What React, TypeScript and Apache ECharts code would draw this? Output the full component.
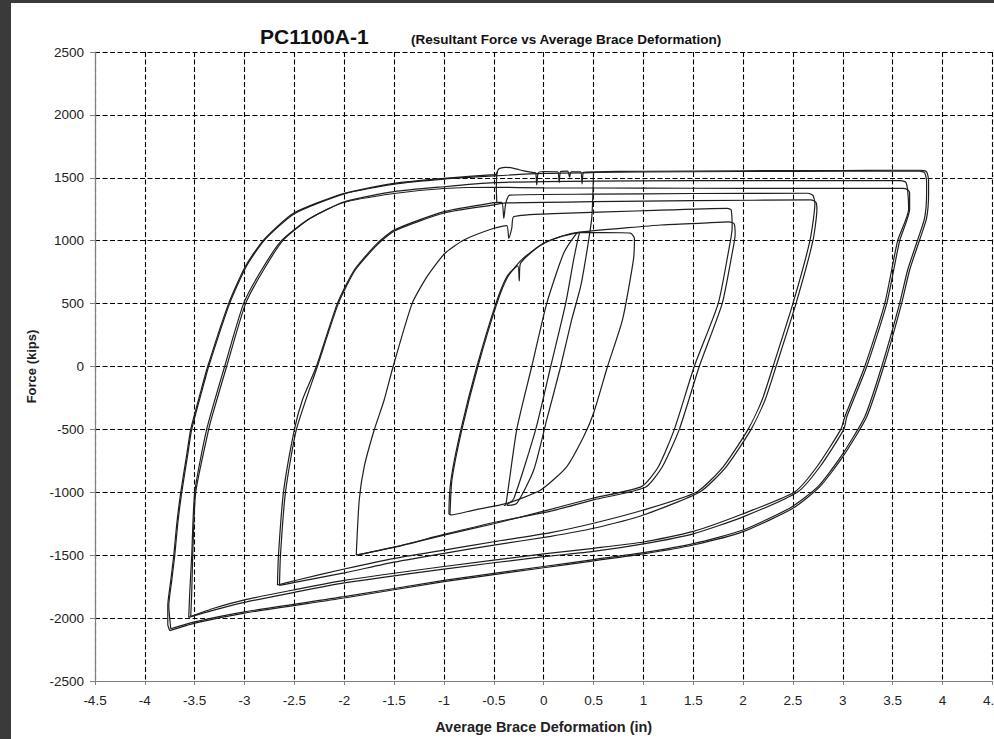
import React, { useEffect, useRef } from 'react';
import * as echarts from 'echarts';

type P = [number, number];

const chartTitle = 'PC1100A-1';
const chartSubtitle = '(Resultant Force vs Average Brace Deformation)';
const xName = 'Average Brace Deformation (in)';
const yName = 'Force (kips)';

// small elastic cycles
const elasticUp: P[] = [[-0.40, -1105], [-0.38, -1100], [-0.27, -500], [-0.12, 0], [0.03, 500], [0.20, 900], [0.33, 1059], [0.36, 1066]];
const elasticDown: P[] = [[0.36, 1066], [0.34, 1000], [0.30, 847], [0.22, 500], [0.07, 0], [-0.08, -500], [-0.30, -1050], [-0.37, -1100]];
const elasticDrop: P[] = [[0.50, 1545], [0.49, 1300], [0.48, 1165], [0.43, 900], [0.37, 634], [0.28, 370], [0.17, 0], [0.03, -425], [-0.10, -823], [-0.27, -1088], [-0.37, -1105]];
const dropAtMinusHalf: P[] = [[-0.47, 1548], [-0.475, 1420], [-0.47, 1300]];

// cycle to about +0.9 / -0.95
const loop1: P[] = [[0.35, 1064], [0.6, 1065], [0.87, 1060], [0.91, 1017], [0.90, 850], [0.79, 370], [0.64, 0], [0.50, -372], [0.40, -558], [0.23, -797], [-0.03, -982], [-0.37, -1088], [-0.70, -1141], [-0.93, -1180], [-0.95, -1170], [-0.93, -902], [-0.83, -500], [-0.67, 0], [-0.48, 500], [-0.37, 714], [-0.26, 800], [-0.245, 680], [-0.235, 815], [-0.03, 966], [0.17, 1032], [0.35, 1064]];

// cycles to about +1.9 / -1.85
const loop2a: P[] = [[-1.88, -1500], [-1.85, -1061], [-1.80, -796], [-1.70, -505], [-1.60, -266], [-1.51, 0], [-1.32, 500], [-1.17, 714], [-0.99, 900], [-0.80, 1006], [-0.5, 1099], [-0.37, 1120], [-0.35, 1019], [-0.32, 1100], [-0.30, 1191], [0.1, 1215], [1.0, 1238], [1.84, 1257], [1.88, 1245], [1.89, 1100], [1.85, 900], [1.75, 500], [1.51, 0], [1.31, -500], [1.15, -797], [0.98, -955], [0.5, -1045], [0.0, -1150], [-0.5, -1250], [-1.0, -1340], [-1.47, -1432], [-1.88, -1500]];
const loop2b: P[] = [[-0.94, -1175], [-0.92, -900], [-0.82, -500], [-0.66, 0], [-0.47, 500], [-0.36, 714], [-0.22, 850], [-0.02, 970], [0.18, 1035], [0.36, 1068], [0.8, 1100], [1.17, 1125], [1.6, 1140], [1.86, 1150], [1.91, 1135], [1.92, 1050], [1.89, 900], [1.79, 500], [1.56, 0], [1.36, -500], [1.19, -797], [1.02, -960], [0.5, -1060], [0.07, -1150], [-0.5, -1240], [-1.0, -1335], [-1.47, -1430], [-1.87, -1498]];

// cycles to about +2.7 / -2.65
const loop3a: P[] = [[-2.67, -1737], [-2.66, -1500], [-2.61, -1000], [-2.50, -500], [-2.42, -266], [-2.28, 0], [-2.07, 500], [-1.90, 767], [-1.67, 979], [-1.5, 1085], [-1.0, 1231], [-0.5, 1302], [-0.42, 1305], [-0.40, 1178], [-0.38, 1300], [-0.34, 1363], [0.5, 1370], [1.5, 1375], [2.65, 1377], [2.70, 1360], [2.72, 1300], [2.67, 1000], [2.50, 502], [2.30, 0], [2.19, -266], [2.05, -500], [1.80, -797], [1.54, -995], [1.0, -1141], [0.5, -1246], [0.07, -1320], [-0.5, -1393], [-1.0, -1459], [-1.5, -1525], [-2.0, -1610], [-2.47, -1697], [-2.67, -1737]];
const loop3b: P[] = [[-2.65, -1740], [-2.64, -1500], [-2.59, -1000], [-2.48, -500], [-2.27, 0], [-2.06, 500], [-1.89, 767], [-1.66, 975], [-1.49, 1080], [-1.0, 1220], [-0.5, 1285], [-0.38, 1300], [0.5, 1310], [1.5, 1318], [2.68, 1324], [2.73, 1305], [2.74, 1250], [2.70, 1000], [2.53, 500], [2.33, 0], [2.22, -266], [2.08, -500], [1.83, -797], [1.57, -995], [1.0, -1180], [0.5, -1286], [0.07, -1350], [-0.5, -1420], [-1.0, -1485], [-1.5, -1555], [-2.0, -1640], [-2.47, -1712], [-2.65, -1740]];

// cycles to about +3.65 / -3.55
const loop4a: P[] = [[-3.54, -1987], [-3.53, -1800], [-3.52, -1500], [-3.49, -1000], [-3.36, -500], [-3.33, -406], [-3.18, 0], [-2.99, 500], [-2.81, 767], [-2.61, 1006], [-2.34, 1178], [-2.0, 1310], [-1.5, 1390], [-1.0, 1429], [-0.5, 1461], [0.0, 1470], [1.0, 1476], [2.0, 1478], [3.0, 1478], [3.58, 1477], [3.63, 1465], [3.65, 1400], [3.66, 1250], [3.55, 1000], [3.42, 500], [3.22, 0], [3.02, -399], [2.98, -500], [2.74, -797], [2.52, -995], [2.0, -1170], [1.5, -1310], [1.0, -1395], [0.5, -1445], [0.0, -1490], [-1.0, -1590], [-2.0, -1700], [-2.5, -1775], [-3.0, -1855], [-3.3, -1920], [-3.54, -1987]];
const loop4b: P[] = [[-3.56, -1995], [-3.55, -1800], [-3.53, -1500], [-3.50, -1000], [-3.38, -500], [-3.20, 0], [-3.01, 500], [-2.83, 767], [-2.63, 1000], [-2.36, 1170], [-2.02, 1300], [-1.5, 1375], [-1.0, 1415], [-0.5, 1425], [0.0, 1420], [1.0, 1418], [2.0, 1416], [3.0, 1416], [3.6, 1416], [3.65, 1405], [3.67, 1380], [3.67, 1250], [3.57, 1000], [3.44, 500], [3.24, 0], [3.04, -399], [3.01, -500], [2.77, -797], [2.55, -995], [2.0, -1195], [1.5, -1330], [1.0, -1410], [0.5, -1470], [0.0, -1512], [-1.0, -1610], [-2.0, -1720], [-2.5, -1795], [-3.0, -1875], [-3.3, -1935], [-3.56, -1995]];

// cycles to about +3.85 / -3.75
const loop5a: P[] = [[-3.75, -2100], [-3.77, -2050], [-3.77, -1900], [-3.74, -1700], [-3.71, -1500], [-3.68, -1250], [-3.64, -1000], [-3.58, -700], [-3.54, -500], [-3.44, -200], [-3.37, 0], [-3.16, 500], [-2.99, 799], [-2.81, 1005], [-2.51, 1218], [-2.0, 1377], [-1.5, 1456], [-1.0, 1496], [-0.5, 1525], [-0.47, 1530], [-0.46, 1560], [-0.44, 1575], [-0.38, 1583], [-0.30, 1575], [-0.2, 1555], [-0.10, 1541], [-0.08, 1540], [-0.07, 1443], [-0.055, 1540], [0.0, 1550], [0.14, 1548], [0.155, 1462], [0.17, 1550], [0.24, 1553], [0.26, 1505], [0.275, 1548], [0.37, 1548], [0.385, 1452], [0.40, 1543], [0.5, 1548], [1.0, 1552], [2.0, 1556], [3.0, 1558], [3.5, 1560], [3.78, 1560], [3.84, 1548], [3.86, 1480], [3.86, 1377], [3.84, 1180], [3.77, 1006], [3.67, 767], [3.59, 502], [3.41, 0], [3.24, -399], [3.0, -717], [2.77, -955], [2.5, -1127], [2.0, -1313], [1.5, -1419], [1.0, -1490], [0.5, -1545], [0.0, -1600], [-1.0, -1710], [-2.0, -1840], [-3.0, -1960], [-3.5, -2040], [-3.75, -2100]];
const loop5b: P[] = [[-3.74, -2085], [-3.76, -1900], [-3.73, -1700], [-3.70, -1500], [-3.67, -1250], [-3.63, -1000], [-3.57, -700], [-3.53, -500], [-3.43, -200], [-3.36, 0], [-3.15, 500], [-2.98, 799], [-2.80, 1005], [-2.50, 1215], [-2.0, 1372], [-1.5, 1450], [-1.0, 1490], [-0.5, 1515], [0.0, 1535], [0.5, 1542], [1.0, 1546], [2.0, 1550], [3.0, 1552], [3.5, 1553], [3.77, 1553], [3.82, 1540], [3.84, 1470], [3.84, 1377], [3.82, 1180], [3.75, 1006], [3.65, 767], [3.57, 502], [3.39, 0], [3.22, -399], [2.98, -717], [2.75, -955], [2.48, -1120], [2.0, -1300], [1.5, -1408], [1.0, -1480], [0.5, -1535], [0.0, -1590], [-1.0, -1700], [-2.0, -1830], [-3.0, -1950], [-3.5, -2030], [-3.74, -2085]];

const allLines: P[][] = [elasticUp, elasticDown, elasticDrop, dropAtMinusHalf, loop1, loop2a, loop2b, loop3a, loop3b, loop4a, loop4b, loop5a, loop5b];

const FONT = '"Liberation Sans", Arial, Helvetica, sans-serif';
const W = 994;
const H = 739;

export default function App() {
  const ref = useRef<HTMLDivElement>(null);
  useEffect(() => {
    if (!ref.current) return;
    const chart = echarts.init(ref.current, null, { renderer: 'svg', width: W, height: H });
    const series = allLines.map((data, i) => ({
      type: 'line',
      name: 'cycle' + i,
      data,
      showSymbol: false,
      symbol: 'none',
      smooth: 0.2,
      clip: true,
      silent: true,
      lineStyle: { color: '#1e1e1e', width: 1.2 },
    }));
    chart.setOption({
      animation: false,
      backgroundColor: '#ffffff',
      grid: { left: 95, right: 1.6, top: 52, bottom: 58, containLabel: false, outerBoundsMode: 'none' },
      xAxis: {
        type: 'value',
        min: -4.5,
        max: 4.5,
        interval: 0.5,
        name: xName,
        nameLocation: 'middle',
        nameGap: 38,
        nameTextStyle: { fontFamily: FONT, fontSize: 14.5, fontWeight: 'bold', color: '#222' },
        axisLine: { show: true, onZero: false, lineStyle: { color: '#808080', width: 1.2 } },
        axisTick: { show: true, length: 4, lineStyle: { color: '#808080' } },
        axisLabel: { margin: 12, fontFamily: FONT, fontSize: 13.5, color: '#222', formatter: (v: number) => String(v) },
        splitLine: { show: true, lineStyle: { color: '#000', width: 1.1, type: [5, 2.5] } },
      },
      yAxis: {
        type: 'value',
        min: -2500,
        max: 2500,
        interval: 500,
        name: yName,
        nameLocation: 'middle',
        nameGap: 57,
        nameRotate: 90,
        nameTextStyle: { fontFamily: FONT, fontSize: 13, fontWeight: 'bold', color: '#222' },
        axisLine: { show: true, onZero: false, lineStyle: { color: '#808080', width: 1.2 } },
        axisTick: { show: true, length: 5, lineStyle: { color: '#808080' } },
        axisLabel: { margin: 11, fontFamily: FONT, fontSize: 13.5, color: '#222', formatter: (v: number) => String(v) },
        splitLine: { show: true, lineStyle: { color: '#000', width: 1.1, type: [5, 2.5] } },
      },
      graphic: [
        { type: 'rect', left: 0, top: 0, z: 100, shape: { x: 0, y: 0, width: 11, height: H }, style: { fill: '#3a3a3a' } },
        { type: 'rect', left: 0, top: 0, z: 100, shape: { x: 0, y: 0, width: W, height: 3 }, style: { fill: '#3a3a3a' } },
        { type: 'text', x: 260, y: 36, z: 100, style: { text: chartTitle, font: `bold 21px ${FONT}`, fill: '#111', textVerticalAlign: 'middle' } },
        { type: 'text', x: 411, y: 39, z: 100, style: { text: chartSubtitle, font: `bold 13.5px ${FONT}`, fill: '#111', textVerticalAlign: 'middle' } },
      ],
      series,
    });
    return () => chart.dispose();
  }, []);
  return <div ref={ref} style={{ position: 'fixed', left: 0, top: 0, width: W, height: H }} />;
}
